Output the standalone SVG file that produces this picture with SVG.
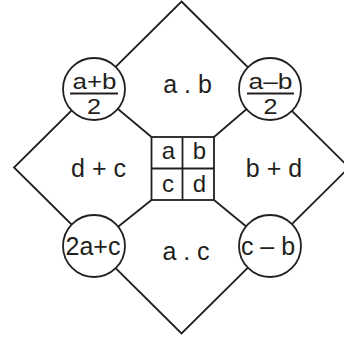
<svg xmlns="http://www.w3.org/2000/svg" width="344" height="338" viewBox="0 0 344 338">
<style>
.ln{stroke:#231f20;stroke-width:1.8;fill:none}
.c{stroke:#231f20;stroke-width:1.8;fill:#fff}
.t{font-family:"Liberation Sans",Arial,sans-serif;fill:#231f20;text-anchor:middle}
.m{font-size:25px}
.g{font-size:24px}
.f{font-size:25px}
.fr{font-size:22px}
</style>
<rect width="344" height="338" fill="#fff"/>
<g id="connectors">
<polygon class="ln" points="181.5,1.5 349,167.5 181.5,333.5 14,167.5"/>
<line class="ln" x1="94" y1="89" x2="151.5" y2="137"/>
<line class="ln" x1="270" y1="89" x2="214" y2="137"/>
<line class="ln" x1="94" y1="246" x2="151.5" y2="200"/>
<line class="ln" x1="270" y1="246" x2="214" y2="200"/>
</g>
<g id="grid">
<rect class="c" x="151.5" y="137" width="62.5" height="63"/>
<line class="ln" x1="182.5" y1="137" x2="182.5" y2="200"/>
<line class="ln" x1="151.5" y1="168.5" x2="214" y2="168.5"/>
<text class="t g" x="168.5" y="159">a</text>
<text class="t g" x="199.5" y="159">b</text>
<text class="t g" x="168" y="192">c</text>
<text class="t g" x="199.5" y="192">d</text>
</g>
<g id="n-ab-half">
<circle class="c" cx="94" cy="89" r="31"/>
<text class="t fr" x="94.5" y="89" textLength="44" lengthAdjust="spacingAndGlyphs">a+b</text>
<line class="ln" x1="70" y1="93.5" x2="118" y2="93.5"/>
<text class="t fr" x="94" y="114" textLength="14" lengthAdjust="spacingAndGlyphs">2</text>
</g>
<g id="n-amb-half">
<circle class="c" cx="270" cy="89" r="31"/>
<text class="t fr" x="270.5" y="89" textLength="44" lengthAdjust="spacingAndGlyphs">a–b</text>
<line class="ln" x1="247" y1="93.5" x2="294" y2="93.5"/>
<text class="t fr" x="270.5" y="114" textLength="14" lengthAdjust="spacingAndGlyphs">2</text>
</g>
<g id="n-2ac">
<circle class="c" cx="94" cy="246" r="31"/>
<text class="t f" x="93" y="255">2a+c</text>
</g>
<g id="n-cmb">
<circle class="c" cx="270" cy="246" r="31"/>
<text class="t f" x="268" y="255">c – b</text>
</g>
<g id="labels">
<text class="t m" x="187.5" y="93">a . b</text>
<text class="t m" x="186" y="260">a . c</text>
<text class="t m" x="98.5" y="177">d + c</text>
<text class="t m" x="274" y="177">b + d</text>
</g>
</svg>
